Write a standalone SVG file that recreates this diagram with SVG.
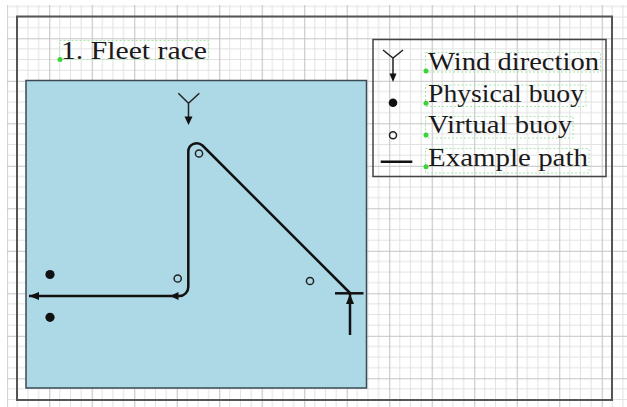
<svg xmlns="http://www.w3.org/2000/svg" width="627" height="407" viewBox="0 0 627 407">
<defs>
<pattern id="grid" patternUnits="userSpaceOnUse" x="6.7" y="-4.2" width="42.5" height="42.5">
<path d="M10.6,0V42.5M21.25,0V42.5M31.9,0V42.5M0,10.6H42.5M0,21.25H42.5M0,31.9H42.5" stroke="#e2e2e2" stroke-width="1" fill="none"/>
<path d="M0.5,0V42.5M0,0.5H42.5" stroke="#c4c4c4" stroke-width="1.2" fill="none"/>
</pattern>
<marker id="arr" viewBox="0 0 10 8" refX="10" refY="4" markerWidth="10" markerHeight="8" markerUnits="userSpaceOnUse" orient="auto">
<path d="M0,0L10,4L0,8z" fill="#111"/>
</marker>
</defs>
<style>
.txt{font-family:"Liberation Serif","DejaVu Serif",serif;font-size:26px;fill:#1a1a1a}
.bbox{fill:none;stroke:#a8e6a8;stroke-width:1;stroke-dasharray:2,2}
.anchor{fill:#3ad43a}
.path{fill:none;stroke:#111;stroke-width:2.5}
.wind{fill:none;stroke:#222;stroke-width:1.5}
.vb{fill:none;stroke:#222;stroke-width:1.5}
.pb{fill:#111}
</style>
<rect x="0" y="0" width="627" height="407" fill="#fff"/>
<rect x="7" y="5" width="620" height="402" fill="url(#grid)"/>
<rect x="17" y="16.5" width="595" height="383.5" fill="none" stroke="#555" stroke-width="2"/>

<g id="title">
<rect class="bbox" x="59.5" y="40.5" width="149" height="19"/>
<text class="txt" x="61" y="58.5" textLength="146" lengthAdjust="spacingAndGlyphs">1.  Fleet race</text>
<circle class="anchor" cx="60" cy="59.5" r="2.5"/>
</g>

<g id="course-area">
<rect x="26" y="80.5" width="340.5" height="307.5" fill="#add8e6" stroke="#3a4a55" stroke-width="1.5"/>
</g>

<g id="wind-main">
<path class="wind" d="M178.3,93.3L188.5,103.3L199.3,93.3M188.5,103.3V118"/>
<path d="M184.5,116.5L192.5,116.5L188.5,125z" fill="#111"/>
</g>

<g id="buoys">
<circle class="pb" cx="50" cy="274.5" r="4.6"/>
<circle class="pb" cx="50" cy="317.3" r="4.6"/>
<circle class="vb" cx="177.7" cy="278.5" r="3.6"/>
<circle class="vb" cx="310" cy="281" r="3.6"/>
<circle class="vb" cx="199" cy="153.5" r="3.6"/>
</g>

<g id="connectors">
<path class="path" d="M335,293.3H363.5"/>
<path class="path" d="M350,335V294" marker-end="url(#arr)"/>
<path class="path" d="M350,293L202.5,145.5A8.5,8.5 0 0 0 188.3,151.5L188.3,287A9,9 0 0 1 179.3,296L172,296"/>
<path d="M178.5,292L170,296L178.5,300z" fill="#111"/>
<path class="path" d="M172,296H29" marker-end="url(#arr)"/>
</g>

<g id="legend">
<rect x="373" y="39.5" width="233" height="137" fill="none" stroke="#444" stroke-width="1.5"/>
<g id="legend-wind">
<path class="wind" d="M383,50L393,58L403,50M393,58V75"/>
<path d="M389.5,73.5L396.5,73.5L393,82z" fill="#111"/>
<rect class="bbox" x="425.5" y="52.5" width="175" height="19.5"/>
<text class="txt" x="428" y="70" textLength="171" lengthAdjust="spacingAndGlyphs">Wind direction</text>
<circle class="anchor" cx="426" cy="71" r="2.5"/>
</g>
<g id="legend-physical">
<circle class="pb" cx="393" cy="102.7" r="4.3"/>
<rect class="bbox" x="425.5" y="85" width="160.5" height="21.5"/>
<text class="txt" x="428" y="101.5" textLength="156" lengthAdjust="spacingAndGlyphs">Physical buoy</text>
<circle class="anchor" cx="426" cy="103.3" r="2.5"/>
</g>
<g id="legend-virtual">
<circle class="vb" cx="393" cy="135.3" r="3.5"/>
<rect class="bbox" x="425.5" y="116.5" width="147.5" height="21.5"/>
<text class="txt" x="428" y="133" textLength="144" lengthAdjust="spacingAndGlyphs">Virtual buoy</text>
<circle class="anchor" cx="426" cy="135" r="2.5"/>
</g>
<g id="legend-path">
<path class="path" d="M380.7,161.7H412.3"/>
<rect class="bbox" x="425.5" y="148.5" width="163.5" height="24.5"/>
<text class="txt" x="428" y="165.5" textLength="160" lengthAdjust="spacingAndGlyphs">Example path</text>
<circle class="anchor" cx="426" cy="166.7" r="2.5"/>
</g>
</g>
</svg>
